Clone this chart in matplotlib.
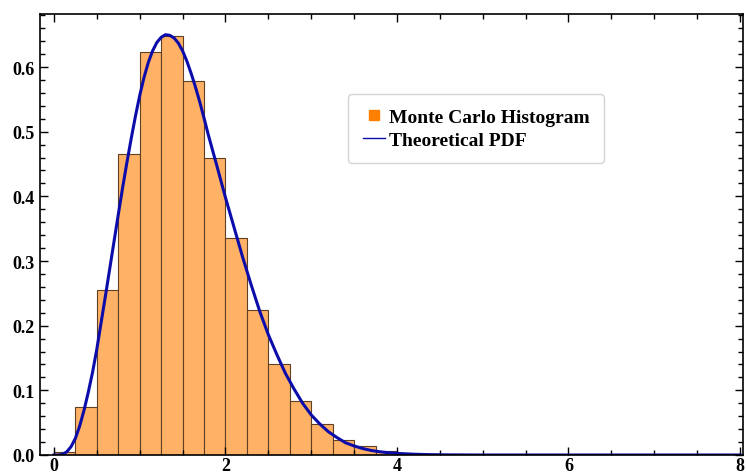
import matplotlib
matplotlib.use("Agg")
import matplotlib.pyplot as plt
from matplotlib.lines import Line2D
from matplotlib.ticker import MultipleLocator, FormatStrFormatter

# Histogram of simulated samples (density), bins of width 0.25
bin_lefts = [0.0, 0.25, 0.5, 0.75, 1.0, 1.25, 1.5, 1.75, 2.0, 2.25,
             2.5, 2.75, 3.0, 3.25, 3.5, 3.75, 4.0, 4.25]
bin_width = 0.25
densities = [0.0046, 0.0737, 0.255, 0.466, 0.623, 0.648, 0.579, 0.460, 0.335, 0.224,
             0.1406, 0.084, 0.048, 0.023, 0.0134, 0.006, 0.002, 0.001]

# Theoretical density curve
pdf_x = [0.0, 0.05, 0.1, 0.15, 0.2, 0.25, 0.3, 0.35, 0.4, 0.45,
         0.5, 0.55, 0.6, 0.65, 0.7, 0.75, 0.8, 0.85, 0.9, 0.95,
         1.0, 1.05, 1.1, 1.15, 1.2, 1.25, 1.3, 1.35, 1.4, 1.45,
         1.5, 1.55, 1.6, 1.65, 1.7, 1.75, 1.8, 1.9, 2.0, 2.1,
         2.2, 2.3, 2.4, 2.5, 2.6, 2.7, 2.8, 2.9, 3.0, 3.1,
         3.2, 3.3, 3.4, 3.5, 3.6, 3.7, 3.8, 3.9, 4.0, 4.2,
         4.4, 4.6, 4.8, 5.0, 6.0, 7.0, 8.0]
pdf_y = [0.0, 0.0, 0.001, 0.005, 0.013, 0.026, 0.045, 0.069, 0.097, 0.128,
         0.164, 0.205, 0.246, 0.288, 0.330, 0.372, 0.413, 0.452, 0.489, 0.524,
         0.556, 0.584, 0.607, 0.625, 0.638, 0.646, 0.650, 0.649, 0.645, 0.637,
         0.625, 0.609, 0.590, 0.569, 0.546, 0.521, 0.495, 0.447, 0.398, 0.352,
         0.306, 0.263, 0.222, 0.186, 0.155, 0.126, 0.102, 0.080, 0.062, 0.048,
         0.036, 0.027, 0.019, 0.014, 0.010, 0.007, 0.005, 0.0035, 0.0025, 0.0012,
         0.0005, 0.0002, 0.0001, 0.0, 0.0, 0.0, 0.0]

plt.rcParams['font.family'] = ['Liberation Serif', 'DejaVu Serif']
plt.rcParams['font.weight'] = 'bold'

fig = plt.figure(figsize=(7.46, 4.77), dpi=100)
ax = fig.add_axes([40 / 746, 21 / 477, 703 / 746, 441 / 477])

ax.bar(bin_lefts, densities, width=bin_width, align='edge',
       color='#FFB266', edgecolor='#5e4024', linewidth=0.8)
ax.plot(pdf_x, pdf_y, color='#0c0caa', linewidth=2.2)

ax.set_xlim(-0.163, 8.035)
ax.set_ylim(0, 0.682)

ax.xaxis.set_major_locator(MultipleLocator(2))
ax.xaxis.set_minor_locator(MultipleLocator(0.5))
ax.yaxis.set_major_locator(MultipleLocator(0.1))
ax.yaxis.set_minor_locator(MultipleLocator(0.02))
ax.yaxis.set_major_formatter(FormatStrFormatter('%.1f'))

ax.tick_params(which='both', direction='in', top=True, right=True,
               labelsize=13, width=1.0)
ax.tick_params(axis='x', pad=1.5)
ax.tick_params(axis='y', pad=4)
ax.tick_params(which='major', length=6)
ax.tick_params(which='minor', length=3.5)
for lbl in ax.get_xticklabels() + ax.get_yticklabels():
    lbl.set_fontweight('bold')
for side in ax.spines.values():
    side.set_linewidth(1.2)

handles = [
    Line2D([], [], linestyle='none', marker='s', markersize=7,
           markerfacecolor='#FF8000', markeredgecolor='#FF8000'),
    Line2D([], [], color='#0c0caa', linewidth=1.0),
]
leg = ax.legend(handles, ['Monte Carlo Histogram', 'Theoretical PDF'],
                loc='upper left', bbox_to_anchor=(348 / 746, 1 - 95 / 477),
                bbox_transform=fig.transFigure, borderaxespad=0,
                prop={'size': 14, 'weight': 'bold'}, frameon=True,
                fancybox=True, handlelength=1.15, handletextpad=0.2,
                labelspacing=0.25, borderpad=0.75, framealpha=1)
leg.get_frame().set_edgecolor('#d4d4d4')
leg.get_frame().set_linewidth(1.0)

fig.savefig('out.png', dpi=100)
